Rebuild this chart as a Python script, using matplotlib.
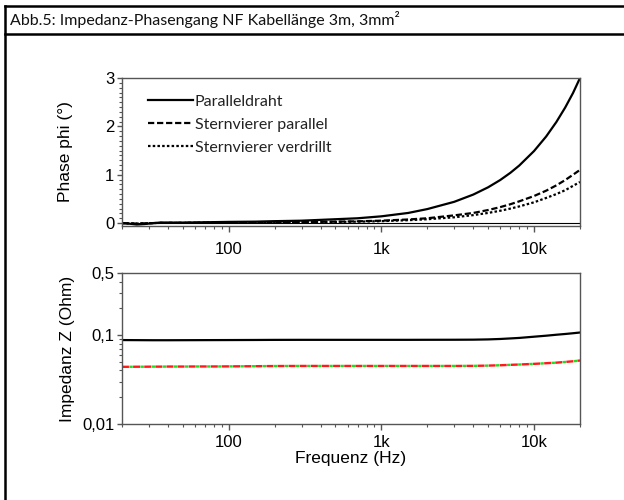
import matplotlib.pyplot as plt
import matplotlib.ticker as mticker
from matplotlib.lines import Line2D

plt.rcParams['font.family'] = 'Liberation Sans'
plt.rcParams['lines.scale_dashes'] = False

# Frequenzpunkte (Hz)
freq = [20, 22, 25, 28, 32, 36, 40, 50, 63, 80, 100, 150, 200, 300, 500, 700,
        1000, 1500, 2000, 3000, 4000, 5000, 6000, 7000, 8000, 10000, 12000,
        14000, 16000, 18000, 20000]

# Phase (Grad)
phase_parallel = [0.0, -0.01, -0.03, -0.02, 0.0, 0.01, 0.01, 0.01, 0.015, 0.02, 0.025,
                  0.03, 0.04, 0.05, 0.08, 0.1, 0.14, 0.21, 0.29, 0.44, 0.59, 0.74,
                  0.89, 1.04, 1.19, 1.49, 1.79, 2.09, 2.39, 2.69, 3.0]
phase_stern_par = [0.0, -0.005, -0.01, -0.005, 0.0, 0.005, 0.005, 0.005, 0.008, 0.01, 0.012,
                   0.015, 0.018, 0.022, 0.03, 0.037, 0.05, 0.075, 0.1, 0.16, 0.21, 0.27,
                   0.33, 0.39, 0.45, 0.56, 0.67, 0.78, 0.89, 1.0, 1.1]
phase_stern_verd = [0.0, -0.005, -0.01, -0.005, 0.0, 0.005, 0.005, 0.005, 0.007, 0.009, 0.01,
                    0.012, 0.015, 0.018, 0.025, 0.03, 0.04, 0.06, 0.08, 0.12, 0.165, 0.21,
                    0.255, 0.3, 0.345, 0.43, 0.52, 0.6, 0.68, 0.77, 0.85]

# Impedanz (Ohm)
z_parallel = [0.088, 0.0879, 0.0878, 0.0877, 0.0876, 0.0876, 0.0876, 0.0877, 0.0878, 0.0879,
              0.088, 0.0882, 0.0884, 0.0885, 0.0885, 0.0885, 0.0885, 0.0885, 0.0886,
              0.0887, 0.0889, 0.0895, 0.0905, 0.0918, 0.093, 0.096, 0.0985, 0.101,
              0.103, 0.105, 0.107]
z_stern = [0.0440, 0.0440, 0.0441, 0.0441, 0.0442, 0.0442, 0.0443, 0.0443, 0.0444, 0.0444,
           0.0445, 0.0447, 0.0449, 0.0450, 0.0450, 0.0450, 0.0450, 0.0450, 0.0450,
           0.0450, 0.0451, 0.0454, 0.0458, 0.0463, 0.0467, 0.0475, 0.0483, 0.049,
           0.0499, 0.0508, 0.0518]

x_ticks = [100, 1000, 10000]
x_labels = ['100', '1k', '10k']
z_ticks = [0.01, 0.1, 0.5]
z_labels = ['0,01', '0,1', '0,5']

legend_font = 'Lato'
spine_col = '#555555'

fig = plt.figure(figsize=(6.24, 5.0), dpi=100)

# Rahmen und Titelzeile
fig.add_artist(Line2D([5/624, 5/624], [0, 1 - 6/500], color='black', lw=1.8))
fig.add_artist(Line2D([5/624, 1], [1 - 6/500, 1 - 6/500], color='black', lw=1.8))
fig.add_artist(Line2D([5/624, 1], [1 - 34/500, 1 - 34/500], color='black', lw=1.8))
fig.text(10/624, 1 - 20/500, 'Abb.5: Impedanz-Phasengang NF Kabellänge 3m, 3mm²',
         fontsize=11.5, family=legend_font, va='center', ha='left', color='#111111')

ax1 = fig.add_axes([122/624, 1 - 226/500, 458/624, 148/500])
ax2 = fig.add_axes([122/624, 1 - 424/500, 458/624, 151/500])

ax1.plot(freq, phase_parallel, color='black', lw=1.6, label='Paralleldraht')
ax1.plot(freq, phase_stern_par, color='black', lw=1.6, ls=(0, (4.5, 2.0)),
         label='Sternvierer parallel')
ax1.plot(freq, phase_stern_verd, color='black', lw=1.6, ls=(0, (1.8, 1.6)),
         label='Sternvierer verdrillt')
ax1.axhline(0, color='black', lw=0.8)
ax1.set_xscale('log')
ax1.set_xlim(20, 20000)
ax1.set_ylim(-0.06, 3)
ax1.yaxis.set_major_locator(mticker.MultipleLocator(1))
ax1.yaxis.set_minor_locator(mticker.MultipleLocator(0.1))
ax1.set_ylabel('Phase phi (°)', fontsize=12.5)
ax1.yaxis.set_label_coords(-0.108, 0.5)
leg = ax1.legend(loc='upper left', bbox_to_anchor=(0.025, 0.985), frameon=False,
                 handlelength=2.8, handletextpad=0.15, labelspacing=0.55,
                 prop={'family': legend_font, 'size': 11.5})
for t in leg.get_texts():
    t.set_color('#222222')

ax2.plot(freq, z_parallel, color='black', lw=1.6)
ax2.plot(freq, z_stern, color='#ff1a1a', lw=1.7, ls=(0, (5.0, 3.0)))
ax2.plot(freq, z_stern, color='#22dd22', lw=1.7, ls=(2.75, (2.5, 5.5)))
ax2.set_xscale('log')
ax2.set_yscale('log')
ax2.set_xlim(20, 20000)
ax2.set_ylim(0.01, 0.5)
ax2.set_yticks(z_ticks)
ax2.set_yticklabels(z_labels)
ax2.yaxis.set_minor_locator(mticker.LogLocator(base=10, subs=range(2, 10)))
ax2.yaxis.set_minor_formatter(mticker.NullFormatter())
ax2.set_ylabel('Impedanz Z (Ohm)', fontsize=12.5)
ax2.yaxis.set_label_coords(-0.103, 0.5)
ax2.set_xlabel('Frequenz (Hz)', fontsize=12.5, labelpad=1)

for ax in (ax1, ax2):
    ax.set_xticks(x_ticks)
    ax.set_xticklabels(x_labels)
    ax.xaxis.set_minor_locator(mticker.LogLocator(base=10, subs=range(2, 10)))
    ax.xaxis.set_minor_formatter(mticker.NullFormatter())
    for s in ax.spines.values():
        s.set_color(spine_col)
        s.set_linewidth(1.0)
    ax.tick_params(which='both', direction='out', color=spine_col, labelsize=12,
                   top=False, right=False)
    ax.tick_params(axis='x', which='major', length=4.5, width=1.0)
    ax.tick_params(axis='x', which='minor', length=2.5, width=0.8)
    ax.tick_params(axis='y', which='major', length=3.5, width=1.0, pad=2)
    ax.tick_params(axis='y', which='minor', length=2.0, width=0.8)

ax1.tick_params(axis='x', which='major', pad=7)
ax2.tick_params(axis='x', which='major', pad=3.5)

fig.savefig('out.png', dpi=100)
